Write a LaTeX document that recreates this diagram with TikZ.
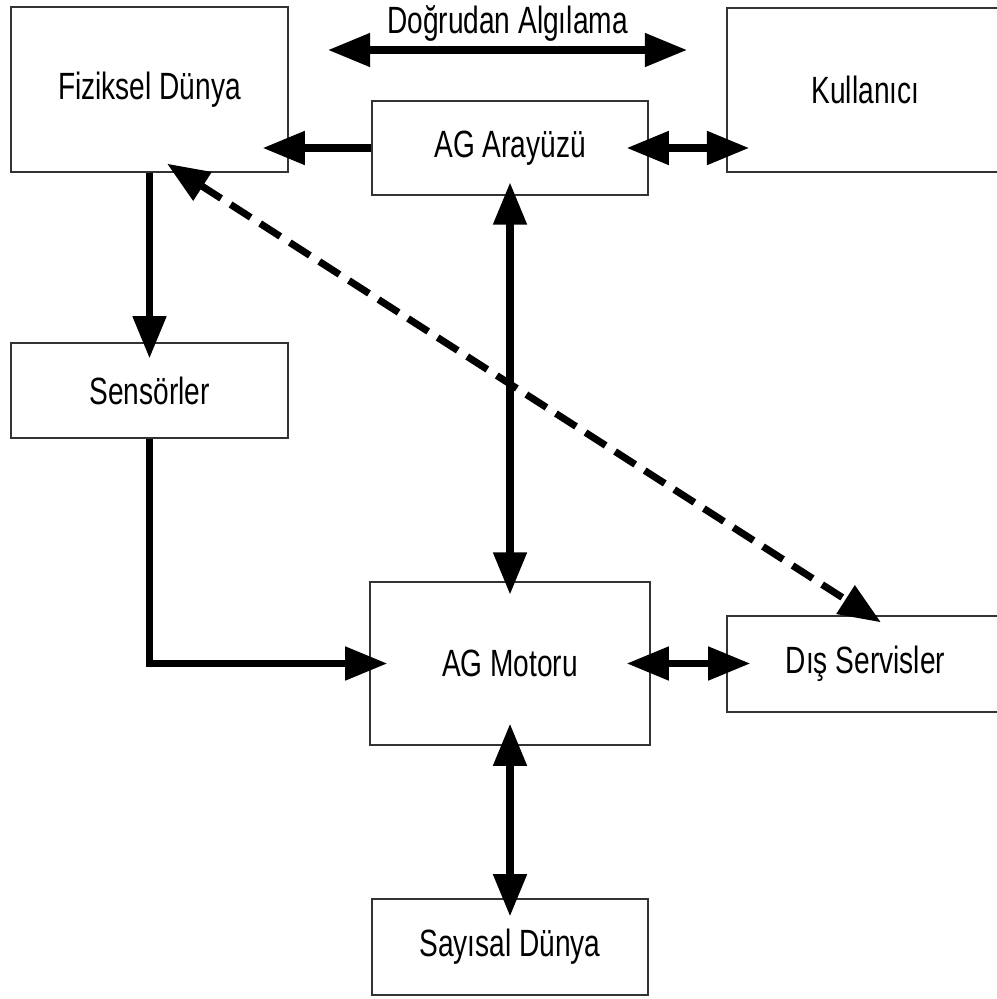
\documentclass[tikz,border=0pt]{standalone}
\usepackage{fontspec}
\setmainfont{Liberation Sans}[FakeStretch=0.74]
\usetikzlibrary{arrows.meta,calc}
\newcommand{\oneway}{-{Triangle[length=30pt,width=23pt]}}
\newcommand{\twoway}{{Triangle[length=30pt,width=23pt]}-{Triangle[length=30pt,width=23pt]}}

\begin{document}
\begin{tikzpicture}[x=0.025cm,y=-0.025cm,
    box/.style={draw=black!80,line width=0.9pt,inner sep=0pt,font=\fontsize{27}{32}\selectfont},
    lbl/.style={inner sep=0pt,font=\fontsize{27}{32}\selectfont},
    flow/.style={line width=5pt},
    hint/.style={line width=5pt,dash pattern=on 17pt off 8pt}]
\useasboundingbox (0,0) rectangle (997,999);

% boxes
\node[box,minimum width=6.925cm,minimum height=4.125cm] (fiz) at (149.5,89.5) {Fiziksel Dünya};
\node[box,minimum width=6.925cm,minimum height=4.1cm] (kul) at (865.5,90) {Kullanıcı};
\node[box,minimum width=6.9cm,minimum height=2.35cm] (ara) at (510,148) {AG Arayüzü};
\node[box,minimum width=6.925cm,minimum height=2.375cm] (sen) at (149.5,390.5) {Sensörler};
\node[box,minimum width=7cm,minimum height=4.075cm] (mot) at (510,663.5) {AG Motoru};
\node[box,minimum width=6.925cm,minimum height=2.4cm] (dis) at (865.5,664) {Dış Servisler};
\node[box,minimum width=6.9cm,minimum height=2.4cm] (say) at (510,947) {Sayısal Dünya};

% direct perception
\coordinate (dl) at (328,50);
\coordinate (dr) at (687,50);
\draw[\twoway,flow] (dl) -- node[lbl,above=3.5pt] {Doğrudan Algılama} (dr);

% connectors
\draw[\oneway,flow,shorten >=-0.65cm] (ara.west) -- (ara.west -| fiz.east);
\draw[\twoway,flow,shorten <=-0.55cm,shorten >=-0.57cm] (ara.east) -- (ara.east -| kul.west);
\draw[\oneway,flow,shorten >=-0.4cm] (fiz.south) -- (sen.north);
\draw[\oneway,flow,shorten >=-0.45cm] (sen.south) |- (mot.west);
\draw[\twoway,flow,shorten <=-0.33cm,shorten >=-0.33cm] (ara.south) -- (mot.north);
\draw[\twoway,flow,shorten <=-0.55cm,shorten >=-0.45cm] (mot.south) -- (say.north);
\draw[\twoway,flow,shorten <=-0.6cm,shorten >=-0.6cm] (mot.east) -- (mot.east -| dis.west);
\draw[\twoway,hint] ($(fiz.south)+(17.5,-9)$) -- ($(dis.north)+(15.5,7)$);
\end{tikzpicture}
\end{document}
